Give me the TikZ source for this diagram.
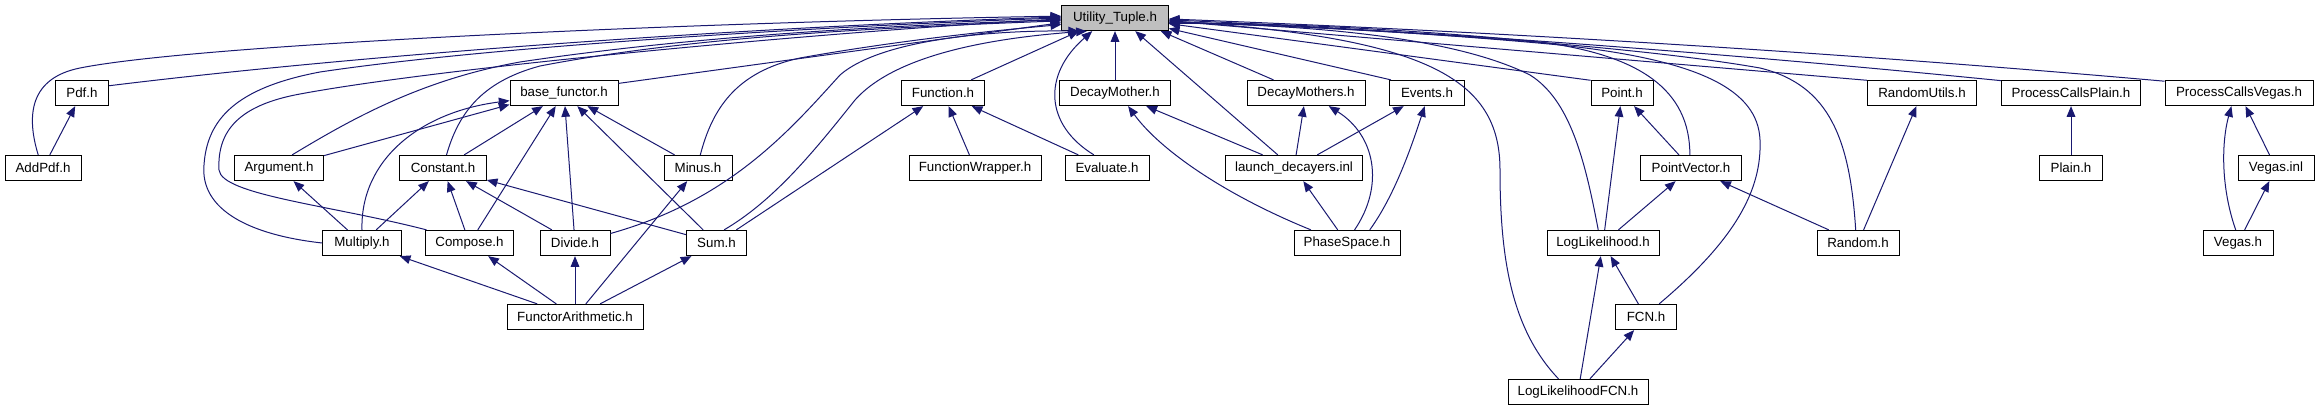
\documentclass[tikz,border=0pt]{standalone}
\usepackage{fontspec}
\setmainfont{Liberation Sans}
\usetikzlibrary{arrows.meta}
\definecolor{navyline}{HTML}{191970}
\definecolor{headgrey}{HTML}{BFBFBF}

\begin{document}
\begin{tikzpicture}[x=0.75pt,y=-0.75pt,
    box/.style={draw=black,line width=0.7pt,fill=white,
      minimum height=19pt,inner xsep=2pt,inner ysep=0pt},
    head/.style={box,fill=headgrey},
    arr/.style={-{Triangle[length=8pt,width=6.5pt]},line width=0.75pt,draw=navyline}
  ]
  \useasboundingbox (0,0) rectangle (2320,411);

  \node[head,minimum width=80pt] (utility) at (1115,18) {Utility\_Tuple.h};

  \node[box,minimum width=40pt] (pdf) at (82,93) {Pdf.h};
  \node[box,minimum width=81pt] (basefunctor) at (564,93) {base\_functor.h};
  \node[box,minimum width=62pt] (function) at (943,93) {Function.h};
  \node[box,minimum width=83pt] (mother) at (1115,93) {DecayMother.h};
  \node[box,minimum width=88.5pt] (mothers) at (1306,93) {DecayMothers.h};
  \node[box,minimum width=56pt] (events) at (1427,93) {Events.h};
  \node[box,minimum width=46.5pt] (point) at (1622,93) {Point.h};
  \node[box,minimum width=82pt] (randutils) at (1922,93) {RandomUtils.h};
  \node[box,minimum width=104.5pt] (plaincalls) at (2071,93) {ProcessCallsPlain.h};
  \node[box,minimum width=111pt] (vegascalls) at (2239,93) {ProcessCallsVegas.h};

  \node[box,minimum width=57pt] (addpdf) at (43,168) {AddPdf.h};
  \node[box,minimum width=67pt] (argument) at (279,168) {Argument.h};
  \node[box,minimum width=65pt] (constant) at (443,168) {Constant.h};
  \node[box,minimum width=51pt] (minus) at (698,168) {Minus.h};
  \node[box,minimum width=99pt] (wrapper) at (975,168) {FunctionWrapper.h};
  \node[box,minimum width=63pt] (evaluate) at (1107,168) {Evaluate.h};
  \node[box,minimum width=103pt] (launch) at (1294,168) {launch\_decayers.inl};
  \node[box,minimum width=76pt] (pointvec) at (1691,168) {PointVector.h};
  \node[box,minimum width=47pt] (plain) at (2071,168) {Plain.h};
  \node[box,minimum width=57pt] (vegasinl) at (2276,168) {Vegas.inl};

  \node[box,minimum width=59pt] (multiply) at (362,243) {Multiply.h};
  \node[box,minimum width=66pt] (compose) at (469.5,243) {Compose.h};
  \node[box,minimum width=52.5pt] (divide) at (575,243) {Divide.h};
  \node[box,minimum width=45pt] (sum) at (716.5,243) {Sum.h};
  \node[box,minimum width=79.5pt] (phasespace) at (1347,243) {PhaseSpace.h};
  \node[box,minimum width=84pt] (loglik) at (1603,243) {LogLikelihood.h};
  \node[box,minimum width=61.5pt] (random) at (1858,243) {Random.h};
  \node[box,minimum width=52.5pt] (vegas) at (2238,243) {Vegas.h};

  \node[box,minimum width=102pt] (arith) at (575,317) {FunctorArithmetic.h};
  \node[box,minimum width=45.5pt] (fcn) at (1646,317) {FCN.h};

  \node[box,minimum width=105pt] (loglikfcn) at (1578,392) {LogLikelihoodFCN.h};

  \draw[arr] (addpdf.110) .. controls (26,115) and (30,78) .. (80,68) .. controls (200,44) and (700,22) .. (utility.178);
  \draw[arr] (pdf.15) .. controls (400,50) and (800,25) .. (utility.179);
  \draw[arr] (multiply.west) .. controls (250,235) and (200,210) .. (204,165) .. controls (207,120) and (235,88) .. (320,72) .. controls (500,45) and (850,25) .. (utility.180);
  \draw[arr] (compose.163) .. controls (330,205) and (222,195) .. (219,170) .. controls (217,130) and (240,105) .. (300,94) .. controls (450,66) and (850,30) .. (utility.181);
  \draw[arr] (argument.45) .. controls (350,120) and (420,80) .. (520,62) .. controls (700,35) and (900,25) .. (utility.182);
  \draw[arr] (constant.75) .. controls (458,115) and (480,82) .. (540,66) .. controls (700,35) and (900,27) .. (utility.183);
  \draw[arr] (basefunctor.10) -- (utility.185);
  \draw[arr] (minus.80) .. controls (712,110) and (735,72) .. (800,58) .. controls (900,40) and (1000,30) .. (utility.187);
  \draw[arr] (divide.15) .. controls (730,200) and (790,130) .. (840,75) .. controls (880,40) and (990,30) .. (utility.200);
  \draw[arr] (sum.60) .. controls (775,200) and (815,150) .. (855,100) .. controls (895,55) and (990,38) .. (utility.205);
  \draw[arr] (function.25) -- (utility.200);
  \draw[arr] (evaluate.135) .. controls (1045,125) and (1042,75) .. (utility.210);
  \draw[arr] (mother) -- (utility);
  \draw[arr] (launch.141) -- (utility.-33);
  \draw[arr] (mothers.158) -- (utility.-16);
  \draw[arr] (events.160) -- (utility.-11);
  \draw[arr] (point.158) -- (utility.-6);
  \draw[arr] (loglikfcn.146) .. controls (1512,330) and (1500,260) .. (1500,170) .. controls (1500,80) and (1430,38) .. (utility.-3);
  \draw[arr] (loglik.110) .. controls (1585,160) and (1570,100) .. (1530,75) .. controls (1450,35) and (1300,25) .. (utility.-5);
  \draw[arr] (pointvec.95) .. controls (1690,90) and (1640,55) .. (1540,42) .. controls (1400,28) and (1250,22) .. (utility.-6);
  \draw[arr] (fcn.45) .. controls (1735,240) and (1762,190) .. (1760,140) .. controls (1758,90) and (1700,60) .. (1560,45) .. controls (1400,30) and (1250,24) .. (utility.-5);
  \draw[arr] (random.100) .. controls (1850,140) and (1830,85) .. (1760,68) .. controls (1600,40) and (1300,26) .. (utility.-4);
  \draw[arr] (randutils.167) -- (utility.-3);
  \draw[arr] (plaincalls.170) .. controls (1724,53) and (1446,32) .. (utility.-2);
  \draw[arr] (vegascalls.171) .. controls (1834,52) and (1501,32) .. (utility.-1);

  \draw[arr] (addpdf) -- (pdf);
  \draw[arr] (argument) -- (basefunctor.192);
  \draw[arr] (constant) -- (basefunctor);
  \draw[arr] (multiply.north) .. controls (360,160) and (420,112) .. (basefunctor.188);
  \draw[arr] (compose) -- (basefunctor);
  \draw[arr] (divide) -- (basefunctor);
  \draw[arr] (sum) -- (basefunctor);
  \draw[arr] (minus) -- (basefunctor);
  \draw[arr] (multiply) -- (argument);
  \draw[arr] (multiply) -- (constant);
  \draw[arr] (compose) -- (constant);
  \draw[arr] (divide) -- (constant);
  \draw[arr] (sum) -- (constant);
  \draw[arr] (arith) -- (multiply);
  \draw[arr] (arith) -- (compose);
  \draw[arr] (arith) -- (divide);
  \draw[arr] (arith) -- (sum);
  \draw[arr] (arith) -- (minus);
  \draw[arr] (sum) -- (function);
  \draw[arr] (wrapper) -- (function);
  \draw[arr] (evaluate) -- (function);
  \draw[arr] (launch) -- (mother);
  \draw[arr] (phasespace.160) .. controls (1225,195) and (1160,150) .. (mother.-45);
  \draw[arr] (launch) -- (mothers);
  \draw[arr] (phasespace.60) .. controls (1385,185) and (1375,135) .. (mothers.-30);
  \draw[arr] (launch) -- (events);
  \draw[arr] (phasespace.30) .. controls (1395,195) and (1412,145) .. (events.-100);
  \draw[arr] (phasespace) -- (launch);
  \draw[arr] (loglik) -- (point);
  \draw[arr] (pointvec) -- (point);
  \draw[arr] (loglik) -- (pointvec);
  \draw[arr] (random) -- (pointvec);
  \draw[arr] (random) -- (randutils);
  \draw[arr] (plain) -- (plaincalls);
  \draw[arr] (vegas.100) .. controls (2220,185) and (2222,140) .. (vegascalls.-120);
  \draw[arr] (vegasinl) -- (vegascalls);
  \draw[arr] (vegas) -- (vegasinl);
  \draw[arr] (fcn) -- (loglik);
  \draw[arr] (loglikfcn) -- (loglik);
  \draw[arr] (loglikfcn) -- (fcn);
\end{tikzpicture}
\end{document}
